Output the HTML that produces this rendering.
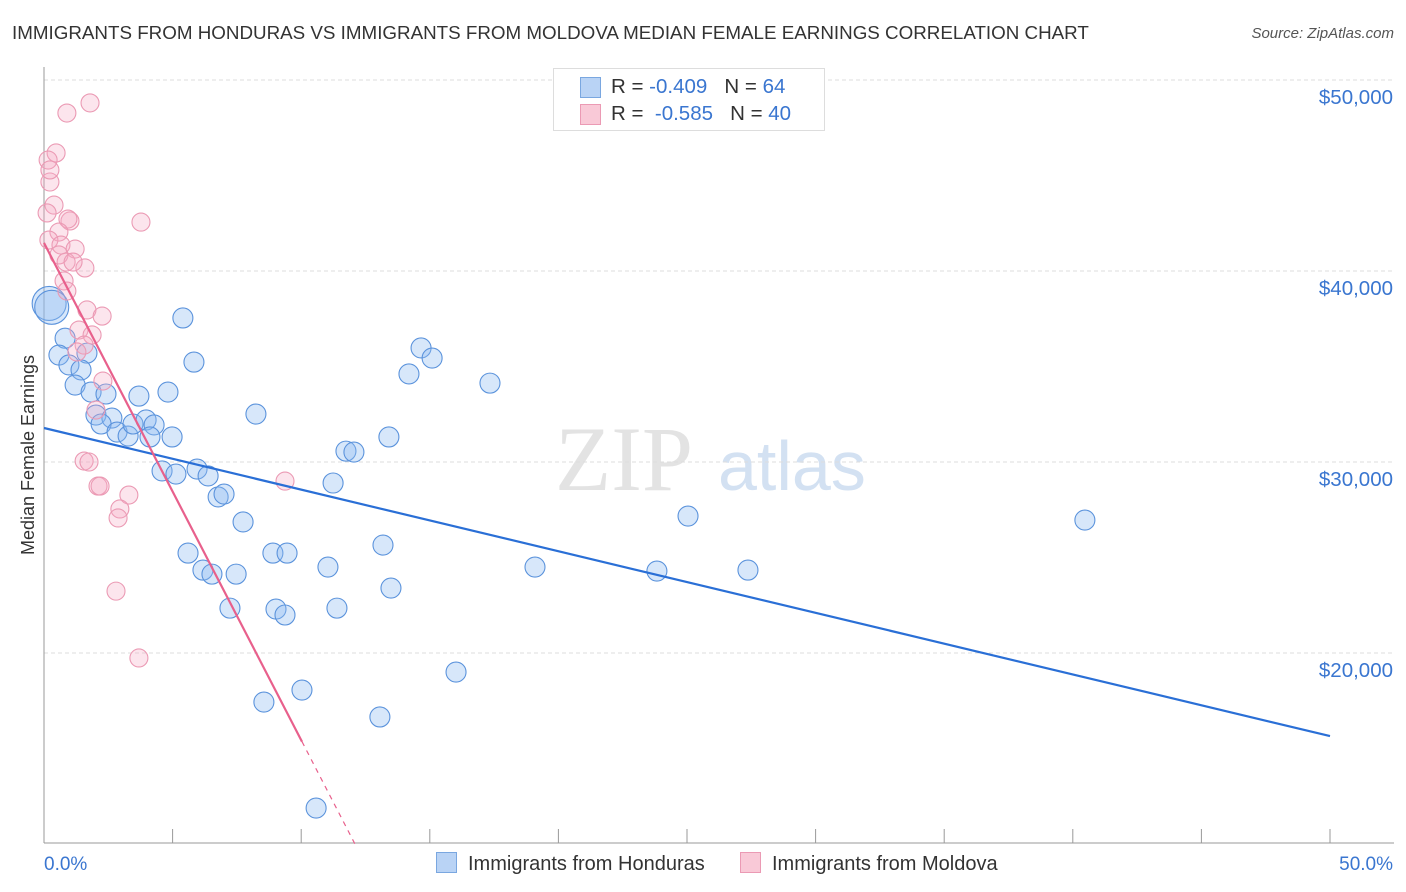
<!DOCTYPE html>
<html><head><meta charset="utf-8"><style>
body{margin:0;background:#fff;font-family:"Liberation Sans",sans-serif;}
#wrap{position:relative;width:1406px;height:892px;overflow:hidden;}
.t{position:absolute;white-space:nowrap;}
</style></head><body><div id="wrap">
<div class="t" style="left:12px;top:22px;font-size:18.8px;color:#333;">IMMIGRANTS FROM HONDURAS VS IMMIGRANTS FROM MOLDOVA MEDIAN FEMALE EARNINGS CORRELATION CHART</div>
<div class="t" style="right:12px;top:25px;font-size:15px;color:#555;font-style:italic;">Source: ZipAtlas.com</div>
<svg id="svg" width="1406" height="892" style="position:absolute;left:0;top:0"></svg>
</div>
<script>
const yTicks=[20000,30000,40000,50000];
const yTickLabels=["$20,000","$30,000","$40,000","$50,000"];
const xTickLabels=["0.0%","50.0%"];
const hondX=[0.2,0.3,0.82,0.58,1.67,0.97,1.44,1.21,1.83,2.41,3.69,4.82,5.40,5.83,2.02,2.64,2.22,2.84,3.27,3.46,3.97,4.28,4.12,4.98,4.59,5.13,5.95,6.38,6.77,7.00,8.24,7.74,5.60,6.18,6.53,7.47,7.23,8.90,9.45,9.02,9.37,8.55,10.03,10.58,11.24,11.04,11.39,11.74,12.05,13.18,13.41,13.49,13.06,14.19,14.66,15.09,16.02,17.34,19.09,23.83,25.04,27.37,40.47];
const hondY=[38300,38100,36480,35600,35700,35080,34820,34030,33660,33560,33450,33660,37540,35230,32460,32300,31990,31570,31360,31990,32200,31940,31310,31310,29530,29370,29630,29270,28170,28320,32510,26860,25230,24340,24130,24130,22350,25230,25230,22300,21990,17430,18060,11880,28900,24500,22350,30570,30520,25650,31310,23400,16650,34610,35970,35440,19000,34130,24500,24290,27170,24340,26960];
const moldX=[1.79,0.89,0.47,0.16,0.23,0.39,0.12,1.01,0.93,0.58,0.19,0.66,1.21,0.58,0.86,1.59,1.13,0.78,0.89,1.67,2.26,1.36,1.87,1.56,1.28,3.77,2.29,2.02,1.56,1.75,2.10,2.18,3.30,2.95,2.88,2.80,3.69,9.37,0.23];
const moldY=[48800,48270,46180,45810,44660,43450,43040,42620,42720,42040,41620,41360,41150,40840,40470,40160,40470,39480,38950,37960,37640,36910,36650,36120,35760,42560,34240,32720,30050,30000,28740,28740,28270,27540,27070,23240,19740,29000,45290];
const hondTrend=[31780,15650];   // value at 0% and 50%
const moldTrend=[41470,-2603];   // intercept, slope per %
const moldSolidEnd=10.03, moldDashEnd=12.13;

const X=p=>44+p*25.72, Y=v=>80+(50000-v)*0.0191;
const svg=document.getElementById('svg');const NS='http://www.w3.org/2000/svg';
function mk(t,a,parent){const e=document.createElementNS(NS,t);for(const k in a)e.setAttribute(k,a[k]);(parent||svg).appendChild(e);return e;}
let w=mk('text',{x:555,y:490,'font-family':'Liberation Serif',"font-size":92,fill:'#e3e3e3'});w.textContent='ZIP';


w=mk('text',{x:718,y:490,'font-family':'Liberation Sans',"font-size":70,fill:'#d3e1f2'});w.textContent='atlas';


yTicks.forEach((v,i)=>{
 const g=mk('line',{x1:44,x2:1394,y1:Y(v),y2:Y(v),stroke:'#ddd','stroke-dasharray':'4,3'});
 
 
 const t=mk('text',{x:1393,y:Y(v)+24,'text-anchor':'end','font-size':20.5,fill:'#3a76d0','font-family':'Liberation Sans'});t.textContent=yTickLabels[i];
 
 
});
let ax=mk('line',{x1:44,x2:44,y1:67,y2:843,stroke:'#999'});


ax=mk('line',{x1:44,x2:1394,y1:843,y2:843,stroke:'#999'});


for(let i=0;i<=10;i++){const x=44+i*128.6;const tk=mk('line',{x1:x,x2:x,y1:829,y2:843,stroke:'#999'});
 
 }
xTickLabels.forEach((s,i)=>{const t=mk('text',{x:i?1393:44,y:870,'text-anchor':i?'end':'start','font-size':19,fill:'#3a76d0','font-family':'Liberation Sans'});t.textContent=s;
 
 });
let yt=mk('text',{transform:'translate(34,455) rotate(-90)','text-anchor':'middle','font-size':18,fill:'#333','font-family':'Liberation Sans'});yt.textContent='Median Female Earnings';


hondX.forEach((p,i)=>{const r=i<2?17:10;const c=mk('circle',{cx:X(p),cy:Y(hondY[i]),r:r,fill:'rgba(140,185,240,0.35)',stroke:'#5b93dc','stroke-width':1.1});
 
 });
moldX.forEach((p,i)=>{const c=mk('circle',{cx:X(p),cy:Y(moldY[i]),r:9,fill:'rgba(245,170,195,0.3)',stroke:'#eb9ab4','stroke-width':1.1});
 
 });
let l=mk('line',{x1:X(0),y1:Y(hondTrend[0]),x2:X(50),y2:Y(hondTrend[1]),stroke:'#2a6fd6','stroke-width':2.2});


const mv=p=>moldTrend[0]+moldTrend[1]*p;
l=mk('line',{x1:X(0),y1:Y(mv(0)),x2:X(moldSolidEnd),y2:Y(mv(moldSolidEnd)),stroke:'#e8608c','stroke-width':2.2});


l=mk('line',{x1:X(moldSolidEnd),y1:Y(mv(moldSolidEnd)),x2:X(moldDashEnd),y2:Y(mv(moldDashEnd)),stroke:'#e8608c','stroke-width':1.2,'stroke-dasharray':'5,5'});


</script>
<div style="position:absolute;left:553px;top:68px;width:270px;height:61px;border:1px solid #ddd;background:#fff;font-size:20.5px;">
 <div style="position:absolute;left:26px;top:8px;width:19px;height:19px;background:#b9d3f5;border:1px solid #7aa7e0"></div>
 <div class="t" style="left:57px;top:6px;color:#333">R = <span style="color:#3a76d0">-0.409</span>&nbsp;&nbsp;&nbsp;N = <span style="color:#3a76d0">64</span></div>
 <div style="position:absolute;left:26px;top:35px;width:19px;height:19px;background:#f9c9d7;border:1px solid #eb9ab4"></div>
 <div class="t" style="left:57px;top:33px;color:#333">R = &nbsp;<span style="color:#3a76d0">-0.585</span>&nbsp;&nbsp;&nbsp;N = <span style="color:#3a76d0">40</span></div>
</div>
<div style="position:absolute;left:436px;top:852px;font-size:20px;color:#333;white-space:nowrap"><span style="display:inline-block;width:19px;height:19px;background:#b9d3f5;border:1px solid #7aa7e0;vertical-align:-3px;margin-right:11px"></span>Immigrants from Honduras</div>
<div style="position:absolute;left:740px;top:852px;font-size:20px;color:#333;white-space:nowrap"><span style="display:inline-block;width:19px;height:19px;background:#f9c9d7;border:1px solid #eb9ab4;vertical-align:-3px;margin-right:11px"></span>Immigrants from Moldova</div>
</body></html>
